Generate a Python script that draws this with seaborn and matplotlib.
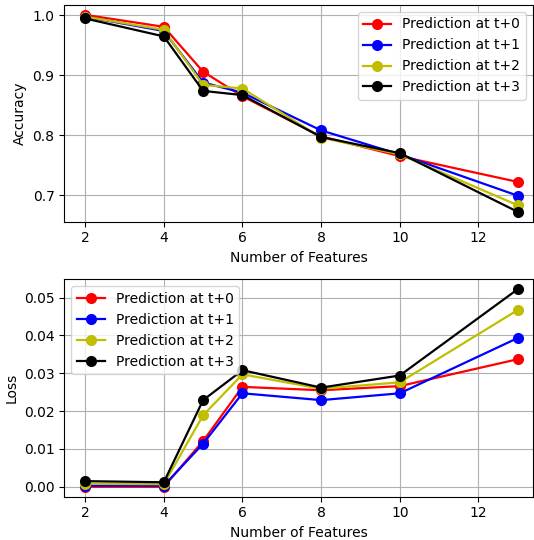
import matplotlib
matplotlib.use("Agg")
import matplotlib.pyplot as plt
import seaborn as sns
import pandas as pd

features = [2, 4, 5, 6, 8, 10, 13]
series_names = ["Prediction at t+0", "Prediction at t+1", "Prediction at t+2", "Prediction at t+3"]
colors = ["r", "b", "y", "k"]

acc_t0 = [1.001, 0.981, 0.906, 0.865, 0.798, 0.765, 0.722]
acc_t1 = [0.998, 0.974, 0.888, 0.871, 0.808, 0.768, 0.699]
acc_t2 = [0.998, 0.976, 0.884, 0.878, 0.796, 0.768, 0.683]
acc_t3 = [0.995, 0.965, 0.874, 0.867, 0.797, 0.770, 0.672]

loss_t0 = [0.0000, 0.0000, 0.0121, 0.0264, 0.0255, 0.0266, 0.0337]
loss_t1 = [0.0003, 0.0003, 0.0114, 0.0247, 0.0229, 0.0247, 0.0393]
loss_t2 = [0.0008, 0.0007, 0.0189, 0.0297, 0.0259, 0.0276, 0.0467]
loss_t3 = [0.0015, 0.0012, 0.0229, 0.0308, 0.0262, 0.0294, 0.0522]

acc = [acc_t0, acc_t1, acc_t2, acc_t3]
loss = [loss_t0, loss_t1, loss_t2, loss_t3]

def long_df(vals):
    rows = []
    for name, v in zip(series_names, vals):
        for f, y in zip(features, v):
            rows.append({"features": f, "value": y, "series": name})
    return pd.DataFrame(rows)

plt.rcParams["font.family"] = ["DejaVu Sans"]
plt.rcParams["font.size"] = 10

fig = plt.figure(figsize=(5.34, 5.40), dpi=100)
W, H = 534, 540
ax1 = fig.add_axes([64.3 / W, 1 - 221.7 / H, (532.7 - 64.3) / W, (221.7 - 5) / H])
ax2 = fig.add_axes([64.3 / W, 1 - 496.7 / H, (532.7 - 64.3) / W, (496.7 - 279.3) / H])

for ax, vals, ylabel, loc in [(ax1, acc, "Accuracy", "upper right"), (ax2, loss, "Loss", "upper left")]:
    sns.lineplot(data=long_df(vals), x="features", y="value", hue="series",
                 palette=colors, marker="o", markersize=8, markeredgewidth=0,
                 linewidth=1.6, ax=ax, zorder=3)
    ax.grid(True, color="#b0b0b0", linewidth=0.8)
    ax.set_axisbelow(True)
    ax.set_xlim(1.47, 13.38)
    ax.set_xticks([2, 4, 6, 8, 10, 12])
    ax.set_xlabel("Number of Features")
    ax.set_ylabel(ylabel)
    leg = ax.legend(loc=loc, fontsize=10, framealpha=0.8, edgecolor="#cccccc")
    leg.set_title(None)

ax1.set_yticks([0.7, 0.8, 0.9, 1.0])
ax1.set_yticklabels(["0.7", "0.8", "0.9", "1.0"])
ax2.set_yticks([0.0, 0.01, 0.02, 0.03, 0.04, 0.05])
ax2.set_yticklabels(["0.00", "0.01", "0.02", "0.03", "0.04", "0.05"])

fig.savefig("out.png", dpi=100)
